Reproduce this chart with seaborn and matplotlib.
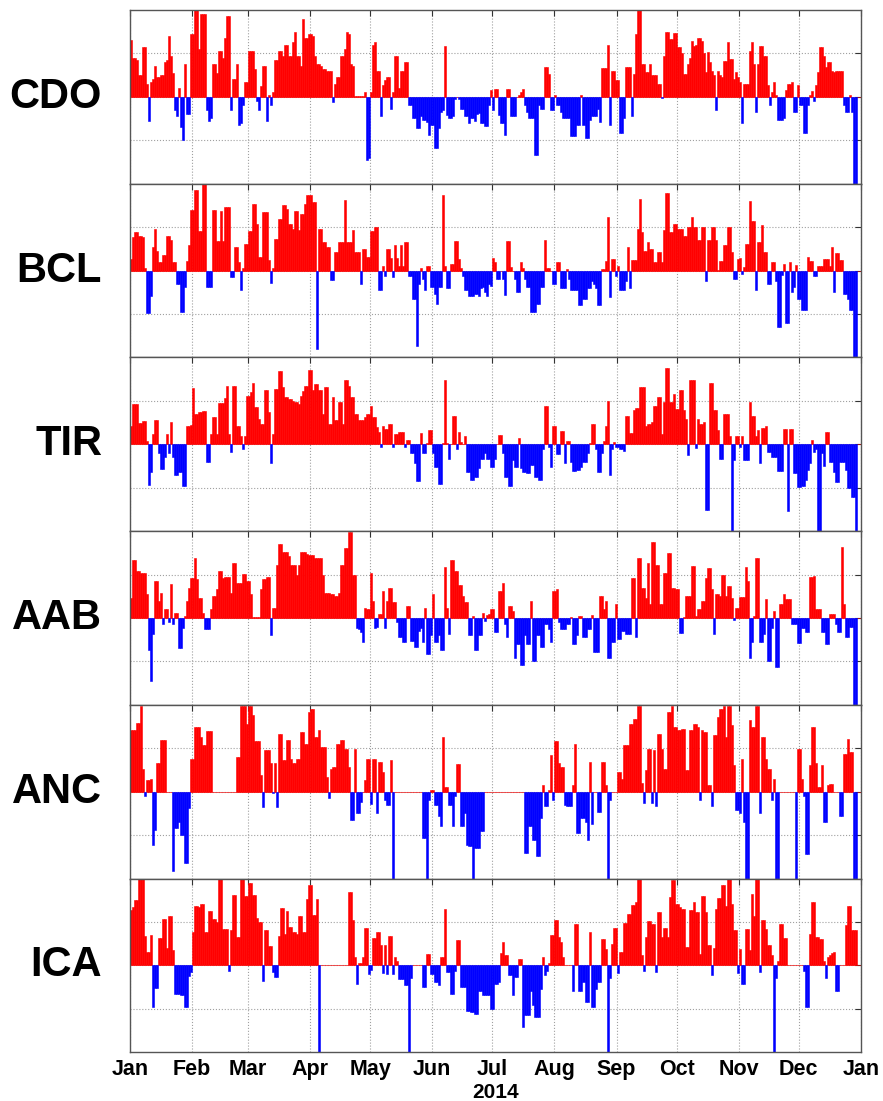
import numpy as np
import pandas as pd
import matplotlib
matplotlib.use("Agg")
import matplotlib.pyplot as plt
import seaborn as sns

# DONNEES (valeurs journalieres, une ligne par mois)

stations = ["CDO", "BCL", "TIR", "AAB", "ANC", "ICA"]
month_names = ["Jan", "Feb", "Mar", "Apr", "May", "Jun",
               "Jul", "Aug", "Sep", "Oct", "Nov", "Dec", "Jan"]
month_len = [31, 28, 31, 30, 31, 30, 31, 31, 30, 31, 30, 31]

cdo = [
    [1.3, 0.9, 0.9, 0.85, 0.5, 0.5, 1.15, 1.15, 0.3, -0.55, 0.35, 0.4, 0.7, 0.45, 0.45, 0.5, 0.5, 0.8, 0.85, 1.4, 0.95, 0.55, -0.3, -0.45, 0.2, -0.7, -1.0, 0.75, -0.4, -0.4, 1.45],
    [1.45, 2.1, 2.1, 1.1, 1.9, 1.9, 1.9, -0.3, -0.55, -0.5, 0.75, 0.75, 0.55, 1.05, 1.05, 0.9, 1.35, 1.85, 1.85, -0.3, 0.4, 0.4, 0.75, -0.65, -0.6, -0.2, 0.35, 0.35],
    [1.05, 1.05, 1.05, 0.65, -0.1, -0.3, 0.25, 0.7, 0.7, -0.55, 0.05, -0.2, 0.1, 0.85, 0.85, 1.05, 1.05, 0.95, 1.2, 1.2, 0.95, 0.95, 1.25, 1.5, 0.95, 0.95, 0.7, 1.8, 1.35, 1.35, 1.45],
    [1.45, 1.4, 0.95, 0.75, 0.75, 0.7, 0.65, 0.65, 0.6, 0.6, 0.6, -0.12, 0.3, 0.45, 0.45, 0.95, 0.95, 1.1, 1.5, 1.45, 0.75, 0.7, 0.02, 0.02, 0.02, 0.02, 0.02, 0.1, -1.45, -1.4],
    [0.1, 1.2, 1.25, 0.6, 0.6, -0.45, 0.27, 0.38, 0.45, 0.45, -0.27, 0.1, 0.95, 0.95, 0.2, 0.6, 0.6, 0.8, 0.8, -0.2, -0.2, -0.5, -0.5, -0.72, -0.72, -0.45, -0.53, -0.53, -0.57, -0.87, -0.64],
    [-0.64, -1.17, -1.17, -0.72, -0.34, -0.3, 1.17, -0.42, -0.5, -0.5, -0.45, -0.05, 0.0, -0.05, -0.27, -0.27, -0.45, -0.45, -0.6, -0.5, -0.5, -0.55, -0.4, -0.38, -0.6, -0.6, -0.68, -0.68, -0.2, 0.15],
    [-0.3, 0.17, 0.17, -0.42, -0.6, -0.6, -0.87, 0.19, 0.19, -0.45, -0.45, -0.45, 0.0, 0.05, 0.1, 0.19, -0.2, -0.34, -0.5, -0.5, -0.5, -1.33, -1.33, -0.2, -0.27, -0.27, 0.68, 0.68, 0.53, -0.3, -0.3],
    [0.05, -0.2, -0.2, -0.34, -0.5, -0.5, -0.5, -0.5, -0.9, -0.9, -0.9, -0.64, -0.64, 0.05, -0.64, -0.95, -0.95, -0.53, -0.45, -0.45, -0.45, -0.27, -0.57, 0.66, 0.66, 0.66, 1.2, -0.64, 0.6, 0.6, 0.38],
    [0.38, -0.83, -0.83, -0.5, 0.68, 0.68, 0.68, -0.45, 0.53, 1.44, 2.1, 2.1, 0.76, 0.76, 0.57, 0.57, 0.76, 0.49, 0.49, 0.49, 0.3, 0.3, -0.03, 0.95, 1.5, 1.5, 1.33, 1.33, 1.47, 1.47],
    [1.14, 1.14, 1.0, 0.53, 0.53, 0.76, 0.9, 1.29, 1.17, 1.2, 1.36, 1.36, 1.29, 1.0, 0.57, 1.02, 0.8, 0.6, 0.49, -0.3, 0.6, 0.5, 0.45, 0.83, 0.83, 1.25, 0.87, 0.87, 0.42, 0.57, 0.45],
    [0.34, -0.6, 0.3, 0.3, 0.3, 1.06, 1.25, 0.76, -0.34, 0.76, 1.17, 1.17, 0.95, 0.95, 0.26, -0.19, 0.1, 0.34, 0.05, -0.53, -0.53, -0.53, -0.5, 0.15, 0.3, 0.3, 0.33, -0.34, -0.34, 0.28],
    [-0.2, -0.2, -0.83, -0.83, -0.2, 0.05, 0.13, -0.1, 0.26, 0.57, 1.14, 1.14, 0.95, 0.68, 0.8, 0.8, 0.6, 0.57, 0.6, 0.6, 0.6, 0.6, -0.19, -0.34, -0.34, 0.05, -0.34, -2.1, -2.1, 0.0, 0.0],
]

bcl = [
    [0.27, 0.77, 0.88, 0.88, 0.8, 0.8, 0.77, 0.05, -0.98, -0.98, -0.58, 0.54, 0.96, 0.46, 0.2, 0.2, 0.35, 0.35, 0.8, 0.8, 0.7, 0.2, 0.2, -0.31, -0.31, -0.95, -0.95, -0.38, 0.23, 0.58, 1.4],
    [1.4, 1.86, 1.86, 0.92, 0.92, 2.0, 2.0, -0.38, -0.38, -0.38, 1.4, 1.4, 0.69, 0.69, 1.37, 0.69, 1.46, 1.46, 1.46, -0.14, -0.14, 0.55, 0.55, 0.2, -0.44, 0.05, 0.6, 0.6],
    [0.9, 0.9, 1.54, 1.54, 1.08, 0.3, 0.3, 1.35, 1.35, 1.35, 0.25, -0.29, 0.05, 0.73, 0.73, 1.19, 1.19, 1.5, 1.5, 1.42, 1.08, 1.08, 0.96, 1.37, 1.37, 0.94, 1.3, 1.3, 1.52, 1.73, 1.73],
    [1.73, 1.58, 1.58, -1.8, 0.96, 0.96, 0.65, 0.65, 0.54, 0.54, -0.22, -0.22, 0.42, 0.42, 0.65, 0.65, 0.65, 1.62, 0.65, 0.65, 0.65, 0.94, 0.42, 0.42, 0.42, -0.31, 0.5, 0.5, 0.31, 0.31],
    [0.92, 0.92, 1.0, 1.0, -0.46, -0.46, 0.1, -0.12, 0.5, 0.5, 0.29, -0.15, 0.58, 0.29, 0.1, 0.58, 0.1, 0.65, 0.65, -0.12, -0.12, -0.65, -0.65, -1.73, -0.3, 0.05, -0.2, -0.44, 0.1, 0.1, -0.38],
    [-0.38, -0.54, -0.77, -0.38, -0.38, 1.73, 0.1, -0.4, -0.4, 0.14, 0.14, 0.67, 0.67, 0.27, 0.05, -0.12, -0.46, -0.46, -0.58, -0.58, -0.58, -0.54, -0.54, -0.58, -0.4, -0.38, -0.5, -0.58, -0.3, -0.35],
    [0.28, 0.2, -0.2, -0.2, 0.0, -0.2, -0.56, 0.67, 0.67, 0.08, 0.0, -0.2, -0.5, -0.5, 0.2, 0.05, -0.2, -0.37, -0.37, -0.96, -0.96, -0.96, -0.77, -0.77, -0.37, -0.37, 0.7, 0.05, 0.05, 0.0, -0.3],
    [-0.3, 0.2, 0.2, -0.4, -0.4, -0.4, 0.04, -0.2, -0.46, -0.46, -0.46, -0.46, -0.8, -0.8, -0.65, -0.65, -0.4, -0.4, -0.23, -0.3, -0.4, -0.8, -0.8, 0.04, 0.04, 0.23, 1.23, -0.62, 0.27, 0.27, -0.12],
    [0.1, -0.46, -0.46, -0.46, -0.23, 0.54, -0.4, 0.25, 0.25, 0.25, 0.96, 1.65, 0.88, 0.46, 0.46, 0.65, 0.5, 0.5, 0.19, 0.19, 0.42, 0.42, 0.19, 0.94, 1.78, 1.78, 0.88, 0.88, 1.08, 1.08],
    [0.96, 0.96, 0.96, 0.8, 0.8, 1.0, 1.0, 1.23, 1.0, 1.0, 0.7, 0.7, 1.0, 1.0, -0.23, 0.7, 0.7, 1.0, 1.0, 0.7, 0.02, 0.23, 0.23, 0.58, 0.58, 1.0, 1.0, 0.42, -0.2, -0.2, 0.27],
    [0.29, -0.08, 0.08, 0.6, 0.6, 1.6, 1.15, 1.15, -0.44, 0.65, 0.65, 1.05, 0.42, 0.42, -0.32, -0.32, 0.19, 0.19, -0.23, -1.3, -1.3, -0.1, 0.15, -1.2, -1.2, 0.19, -0.5, -0.38, 0.12, -0.65],
    [-0.65, -0.92, -0.92, -0.92, 0.32, 0.23, 0.23, -0.12, -0.12, 0.1, 0.1, 0.1, 0.27, 0.27, 0.27, 0.1, 0.54, -0.5, 0.4, 0.4, 0.25, 0.25, -0.54, -0.54, -0.65, -0.9, -0.9, -2.1, -2.1, 0.0, 0.0],
]

tir = [
    [0.43, 0.93, 0.93, 0.93, 0.49, 0.49, 0.53, 0.53, 0.08, -0.94, -0.63, 0.24, 0.55, 0.55, -0.2, -0.58, -0.58, -0.3, 0.24, -0.2, 0.51, -0.3, -0.71, -0.71, -0.63, -0.63, -0.96, -0.96, 0.43, 0.43, 0.45],
    [1.3, 0.69, 0.69, 0.74, 0.74, 0.76, 0.76, -0.4, -0.4, 0.24, 0.63, 0.63, 0.24, 0.95, 0.95, 0.95, 1.07, 1.35, 0.24, -0.18, 1.35, 1.35, 0.41, 0.41, 0.2, -0.1, 0.2, 1.1],
    [1.1, 1.2, 1.4, 0.85, 0.85, 0.59, 0.47, 0.47, 1.24, 1.24, 0.74, -0.43, 0.24, 1.27, 1.27, 1.68, 1.68, 1.31, 1.08, 1.08, 1.05, 1.05, 1.0, 0.97, 0.97, 0.92, 1.1, 1.22, 1.35, 1.35, 1.7],
    [1.7, 1.24, 1.39, 1.39, 1.24, 1.24, 0.7, 1.31, 1.31, 0.47, 0.47, 1.08, 0.55, 0.55, 0.97, 0.97, 0.47, 1.47, 1.47, 1.35, 1.08, 1.08, 0.7, 0.7, 0.55, 0.55, 0.55, 0.63, 0.69, 0.69],
    [0.87, 0.63, 0.63, 0.4, 0.28, -0.06, 0.43, 0.36, 0.36, 0.47, 0.47, -0.07, 0.24, 0.24, 0.28, 0.28, 0.28, -0.06, 0.1, 0.1, -0.21, -0.21, -0.43, -0.84, -0.84, 0.26, -0.21, -0.2, 0.03, 0.32, 0.32],
    [-0.2, -0.53, -0.53, -0.92, -0.92, 0.03, 1.47, 0.03, -0.33, 0.0, 0.66, 0.66, -0.1, 0.28, 0.05, 0.0, 0.18, -0.63, -0.63, -0.82, -0.82, -0.75, -0.75, -0.55, -0.33, -0.33, -0.2, -0.33, -0.33, -0.52],
    [-0.52, -0.33, 0.0, 0.22, 0.22, -0.2, -0.76, -0.76, -0.96, -0.96, -0.37, -0.52, -0.52, 0.15, -0.55, -0.63, -0.63, -0.67, -0.67, -0.48, -0.48, -0.76, -0.76, -0.82, -0.82, -0.1, 0.87, 0.87, -0.06, -0.52, 0.41],
    [0.41, -0.23, -0.23, 0.3, 0.3, -0.44, 0.08, 0.08, -0.4, -0.61, -0.61, -0.6, -0.6, -0.52, -0.4, -0.4, -0.21, 0.02, 0.46, 0.46, -0.12, -0.63, -0.63, -0.21, 0.08, 0.41, 1.0, -0.71, -0.1, 0.05, -0.06],
    [-0.06, -0.1, -0.1, -0.15, 0.64, 0.64, 0.26, 0.26, 0.78, 0.84, 0.84, 1.31, 1.31, 1.31, 0.43, 0.47, 0.47, 0.51, 0.89, 0.89, 1.08, 1.08, 0.24, 0.97, 1.75, 1.75, 0.97, 0.97, 1.16, 0.82],
    [0.82, 1.24, 1.24, 0.78, 0.59, -0.25, 1.47, 1.47, 1.47, -0.08, 0.59, 0.47, 0.47, 0.51, -1.51, -1.51, 1.4, 1.4, 0.78, 0.78, 0.32, -0.35, -0.35, 0.7, 0.7, 0.7, 0.2, -2.1, -0.37, 0.2, 0.2],
    [-0.06, 0.18, -0.37, -0.37, -0.37, 0.97, 0.66, 0.66, 0.2, 0.32, -0.44, 0.38, 0.38, 0.43, -0.18, -0.18, -0.29, -0.29, -0.29, -0.61, -0.61, -0.61, 0.34, 0.34, -1.53, 0.36, 0.36, -0.67, -0.67, -0.98],
    [-0.98, -0.95, -0.95, -0.82, -0.6, -0.44, 0.1, -0.18, -0.1, -2.1, -2.1, -0.21, -0.5, 0.28, 0.28, -0.4, -0.4, -0.63, -0.86, -0.86, -0.4, -0.4, -0.4, -0.6, -1.0, -1.0, -1.22, -1.22, -2.1, 0.0, 0.0],
]

aab = [
    [0.47, 1.34, 1.34, 1.09, 1.09, 1.04, 1.04, 1.04, 0.55, -0.74, -1.46, -0.36, 0.85, 0.85, 0.39, 0.58, -0.14, 0.2, 0.2, -0.1, 0.79, -0.14, 0.12, 0.12, -0.7, -0.7, -0.22, 0.05, 0.39, 0.7, 0.92],
    [0.92, 1.39, 0.89, 0.47, 0.47, 0.12, -0.25, -0.25, -0.25, 0.2, 0.51, 0.51, 0.66, 1.08, 1.08, 0.92, 0.94, 0.94, 0.94, 0.58, 1.27, 1.27, 0.81, 0.81, 0.81, 1.02, 1.02, 0.85],
    [0.85, 0.55, 0.03, 0.03, 0.03, 0.03, 0.66, 0.89, 0.89, 0.94, 0.94, -0.4, 0.24, 0.24, 1.23, 1.7, 1.7, 1.53, 1.52, 1.52, 1.42, 1.23, 1.23, 1.23, 1.0, 1.21, 1.53, 1.53, 1.53, 1.47, 1.44],
    [1.44, 1.45, 1.38, 1.38, 1.38, 1.38, 1.0, 0.58, 0.58, 0.58, 0.55, 0.55, 0.51, 0.51, 0.58, 1.23, 1.23, 1.61, 1.61, 1.98, 1.98, 1.0, 1.0, -0.22, -0.25, -0.33, -0.55, 0.24, 0.2, 0.2],
    [1.04, 0.4, -0.22, -0.2, 0.1, 0.1, 0.62, -0.22, 0.4, 0.68, 0.68, 0.36, 0.36, -0.1, -0.44, -0.44, -0.55, -0.55, 0.28, 0.28, -0.52, -0.52, -0.67, -0.67, -0.3, -0.22, -0.55, 0.24, -0.82, -0.82, -0.4],
    [0.55, -0.55, -0.55, -0.4, -0.74, -0.74, 1.17, 0.24, -0.36, 1.34, 1.34, 1.08, 1.08, 0.76, 0.76, 0.5, 0.36, 0.36, -0.4, -0.4, 0.05, -0.73, -0.73, -0.4, -0.4, 0.12, -0.06, 0.08, 0.1, 0.2],
    [0.2, -0.33, -0.33, 0.62, 0.62, 0.81, -0.14, -0.44, 0.28, 0.28, 0.17, -0.93, -0.6, -0.6, -1.08, -1.08, -0.4, -0.59, -0.59, 0.39, -1.0, -1.0, -0.4, -0.4, -0.67, -0.67, -0.14, -0.14, -0.25, -0.55, 0.62],
    [0.62, 0.66, -0.1, -0.25, -0.25, -0.25, -0.14, -0.14, 0.02, -0.59, -0.59, -0.4, 0.05, 0.05, -0.44, -0.44, -0.25, -0.25, 0.08, -0.78, -0.78, -0.78, 0.51, 0.51, 0.2, 0.38, -0.93, -0.93, -0.55, -0.55, 0.32],
    [-0.48, -0.48, -0.3, -0.3, -0.36, -0.36, -0.36, 0.91, 0.91, -0.44, 1.38, 1.38, 0.7, 0.7, 0.47, 1.27, 0.32, 1.76, 1.76, 1.23, 1.23, 0.32, 0.32, 1.04, 1.04, 1.5, 1.5, 0.7, 0.7, 0.66],
    [0.66, -0.35, -0.35, 0.03, 0.51, 0.51, 0.51, 1.19, 1.19, 0.05, 0.2, 0.2, 0.39, 0.39, 0.92, 1.15, 1.15, 0.66, -0.36, 0.55, 0.55, 0.51, 1.0, 1.0, 0.51, 0.73, 0.73, 0.47, -0.05, 0.24, 0.24],
    [0.48, 0.48, 0.48, 1.17, 0.86, -0.93, -0.55, 0.05, 1.38, 1.38, -0.55, -0.55, -0.36, 0.43, -1.0, -1.0, -0.22, 0.17, -1.12, -1.12, 0.33, 0.33, 0.56, 0.43, 0.43, 0.43, -0.14, -0.14, -0.14, -0.58],
    [-0.58, -0.22, -0.22, -0.33, -0.33, 0.94, 0.94, 0.96, 0.2, 0.2, 0.2, -0.33, -0.33, -0.61, -0.61, 0.1, 0.09, 0.09, -0.14, -0.33, -0.33, 1.64, 0.33, -0.44, -0.44, -0.2, -0.2, -2.1, -2.1, 0.0, 0.0],
]

anc = [
    [1.41, 1.41, 1.43, 1.58, 1.58, 1.98, 0.53, -0.1, 0.28, 0.28, 0.3, -1.22, -0.88, 0.65, 0.65, 1.18, 1.18, 1.18, 0.0, 0.0, 0.0, -1.83, -0.84, -0.84, -0.69, -0.99, -0.99, -1.63, -1.63, -0.38, 0.76],
    [0.76, 1.49, 1.49, 1.49, 1.26, 1.07, 1.07, 1.4, 1.4, 1.4, 0.0, 0.0, 0.0, 0.0, 0.0, 0.0, 0.0, 0.0, 0.0, 0.0, 0.0, 0.0, 0.8, 0.8, 1.98, 1.98, 1.98, 1.56],
    [1.98, 1.98, 1.76, 1.17, 1.17, 1.17, 0.38, -0.36, 0.97, 0.97, 0.97, 0.65, -0.04, 0.65, -0.36, 1.34, 1.34, 0.73, 0.73, 1.18, 1.18, 0.76, 0.65, 0.65, 0.76, 0.76, 1.37, 1.37, 1.1, 1.1, 1.83],
    [1.9, 1.9, 1.26, 1.26, 1.41, 1.03, 1.03, 1.03, 0.33, -0.15, 0.53, 0.57, 0.57, 1.1, 1.1, 1.2, 1.2, 0.99, 0.99, 0.57, -0.65, -0.65, 0.99, -0.5, -0.5, -0.23, 0.0, 0.28, 0.76, 0.76],
    [-0.28, 0.76, 0.76, -0.48, 0.69, 0.69, 0.46, -0.19, -0.3, -0.3, 0.73, -2.1, 0.0, 0.0, 0.0, 0.0, 0.0, 0.0, 0.0, 0.0, 0.0, 0.0, 0.0, 0.0, 0.0, 0.0, -1.07, -1.07, -2.1, -0.2, 0.05],
    [0.05, -0.3, -0.3, -0.56, -0.8, 1.27, 0.1, 0.1, -0.3, -0.3, -0.79, -0.1, 0.63, 0.63, -0.8, -0.8, -0.5, -1.22, -1.25, -1.25, -2.1, -1.3, -1.3, -1.3, -0.9, -0.9, 0.0, 0.0, 0.0, 0.0],
    [0.0, 0.0, 0.0, 0.0, 0.0, 0.0, 0.0, 0.0, 0.0, 0.0, 0.0, 0.0, 0.0, 0.0, 0.0, 0.0, -1.41, -1.41, -0.8, -0.8, -1.1, -1.1, -1.49, -1.49, -0.61, 0.15, -0.34, -0.34, 0.05, 0.84, -0.2],
    [1.17, 1.17, 0.66, 0.57, 0.57, -0.3, -0.33, -0.33, -0.33, 0.15, 1.1, -0.94, -0.94, -0.6, -0.6, -0.7, -1.1, 0.69, -0.75, 0.0, 0.0, -0.46, -0.46, 0.69, 0.69, 0.15, -2.1, -0.2, 0.0, 0.0, 0.0],
    [0.46, 0.46, 0.3, 1.07, 1.07, 1.07, 1.56, 1.56, 1.68, 1.68, 1.98, 1.98, 0.2, -0.26, 0.5, 0.99, 0.99, -0.26, 0.97, -0.33, 1.34, 1.34, 0.99, 0.53, 0.53, 1.83, 1.83, 1.98, 1.49, 1.49],
    [1.41, 1.41, 1.45, 1.45, 0.5, 0.5, 1.41, 1.41, 1.56, 1.56, 1.5, -0.2, 1.43, 1.37, 1.37, 0.15, 0.15, -0.33, 1.3, 1.3, 1.73, 1.9, 1.9, 1.98, 1.26, 1.98, 1.98, 1.53, 0.61, -0.42, -0.42],
    [-0.5, 0.76, -0.7, -2.1, -2.1, 1.66, 1.49, 1.49, 1.98, 1.98, -0.5, 1.26, 1.26, 0.76, 0.53, 0.53, -0.2, 0.3, -2.1, -2.1, 0.0, 0.0, 0.0, 0.0, 0.0, 0.0, 0.0, 0.0, -2.1, 0.99],
    [0.99, 0.3, -0.1, -1.43, -1.43, 0.61, 1.49, 1.49, 0.65, 0.1, 0.1, 0.61, -0.69, -0.69, 0.15, 0.18, 0.18, 0.0, 0.0, 0.0, -0.57, -0.57, 0.88, 0.88, 1.22, 0.92, 0.92, -2.1, -2.1, 0.0, 0.0],
]

ica = [
    [1.27, 1.35, 1.5, 1.5, 1.98, 1.98, 1.98, 0.68, 0.31, 0.31, 0.71, -0.96, -0.52, -0.52, 0.63, 0.63, 1.08, 1.08, 0.4, 1.15, 1.15, 0.35, -0.65, -0.65, -0.65, -0.69, -0.69, -0.96, -0.96, -0.25, -0.15],
    [0.77, 1.38, 1.38, 1.35, 1.42, 1.42, 0.78, 0.78, 1.25, 1.25, 1.08, 1.08, 1.0, 1.98, 1.98, 0.85, 0.85, 0.85, -0.12, 0.81, 1.62, 1.62, 0.65, 0.65, 1.98, 1.98, 1.6, 1.6],
    [1.9, 1.9, 1.62, 1.62, 1.09, 1.0, 1.0, -0.35, 0.81, 0.81, 0.45, 0.45, -0.15, -0.27, -0.27, 0.67, 1.33, 1.33, 0.73, 1.25, 0.88, 0.88, 0.77, 0.77, 0.72, 1.15, 1.15, 0.77, 0.77, 1.54, 1.86],
    [1.86, 1.17, 1.17, 1.52, -2.1, 0.0, 0.0, 0.0, 0.0, 0.0, 0.0, 0.0, 0.0, 0.0, 0.0, 0.0, 0.0, 0.0, 0.0, 1.7, 1.7, 1.04, 0.2, -0.42, 0.05, 0.05, 0.2, 0.86, 0.86, -0.2],
    [-0.1, 0.63, 0.63, 0.77, 0.77, 0.48, -0.17, 0.48, -0.19, 0.68, 0.68, -0.19, 0.19, 0.1, -0.31, -0.31, -0.31, -0.46, -0.46, -2.1, -0.3, 0.0, 0.0, 0.0, 0.0, 0.0, -0.5, -0.5, 0.27, 0.27, -0.19],
    [-0.19, -0.38, -0.38, -0.45, 0.2, 0.2, 1.31, -0.15, -0.15, -0.65, -0.65, -0.12, 0.58, 0.58, -0.5, -0.5, -0.5, -1.04, -1.04, -1.08, -1.08, -1.12, -1.12, -0.58, -0.58, -0.69, -0.69, -0.69, -0.69, -1.0],
    [-1.0, -0.42, -0.42, -0.38, 0.29, 0.54, 0.23, 0.23, -0.23, -0.23, -0.68, -0.27, -0.27, 0.15, 0.15, -1.42, -1.15, -1.15, -1.15, -0.58, -0.92, -1.19, -1.19, -1.19, -0.54, 0.19, -0.22, -0.12, 0.06, 0.71, 0.71],
    [1.04, 1.04, 0.65, 0.54, 0.19, 0.0, 0.0, 0.0, 0.0, -0.58, 0.96, 0.96, -0.58, -0.58, -0.38, -0.83, -0.83, 0.77, -0.96, -0.96, -0.54, -0.37, -0.37, 0.62, 0.62, 0.38, -2.1, -0.3, 0.5, 0.86, 0.86],
    [-0.18, 0.31, 0.31, 0.98, 0.98, 1.19, 1.19, 1.4, 1.4, 1.45, 1.98, 1.98, 0.23, -0.12, 0.65, 1.02, 1.02, 0.96, 0.96, -0.15, 1.23, 1.23, 0.65, 0.86, 0.86, 0.65, 1.58, 1.96, 1.96, 1.42],
    [1.42, 1.35, 1.31, 1.31, 0.42, 0.42, 1.27, 1.27, 1.46, 1.23, 1.23, 0.27, 1.6, 1.6, 1.23, 0.46, 0.46, -0.23, 0.4, 1.31, 1.55, 1.55, 1.86, 1.86, 1.38, 1.98, 1.98, 1.42, 0.81, 0.81, -0.17],
    [0.37, -0.42, -0.42, 0.85, 0.85, 0.35, 1.65, 1.14, 1.98, 1.98, -0.15, 1.04, 1.04, 0.85, 0.46, 0.46, 0.23, -2.1, -0.3, 0.1, 0.96, 0.96, 0.63, 0.63, 0.0, 0.0, 0.0, 0.0, 0.0, 0.0],
    [0.0, 0.0, -0.12, -0.96, -0.96, 0.73, 1.46, 1.46, 0.65, 0.65, 0.6, 0.6, 0.1, -0.3, 0.2, 0.25, 0.29, 0.32, -0.58, -0.58, 0.0, 0.0, 0.0, 0.94, 1.37, 1.37, 0.81, 0.81, 0.81, 0.0, 0.0],
]

series = {"CDO": cdo, "BCL": bcl, "TIR": tir, "AAB": aab, "ANC": anc, "ICA": ica}

# verification du nombre de jours par mois
for name, months in series.items():
    lens = [len(m) for m in months]
    if lens != month_len:
        raise ValueError(f"{name}: {lens}")

# FIGURE

sns.set_style("white")
plt.rcParams["font.family"] = ["Liberation Sans", "DejaVu Sans"]
plt.rcParams["text.color"] = "black"
plt.rcParams["xtick.color"] = "black"
plt.rcParams["ytick.color"] = "black"
plt.rcParams["axes.labelcolor"] = "black"

fig, axes = plt.subplots(6, 1, figsize=(8.83, 11.01), dpi=100, sharex=True)
fig.subplots_adjust(left=0.147, right=0.975, top=0.991, bottom=0.0442, hspace=0)

month_start = np.cumsum([0] + month_len)

for ax, name in zip(axes, stations):
    vals = np.concatenate(series[name])
    df = pd.DataFrame({"day": np.arange(len(vals)) + 0.5, "value": vals})
    df["sign"] = np.where(df["value"] >= 0, "pos", "neg")
    sns.barplot(data=df, x="day", y="value", hue="sign",
                palette={"pos": "#ff0000", "neg": "#0000ff"}, saturation=1,
                native_scale=True, dodge=False, width=1.0, errorbar=None,
                legend=False, linewidth=0, ax=ax)
    # bord de la couleur de la barre pour ne pas laisser de fentes blanches
    for p in ax.patches:
        p.set_edgecolor(p.get_facecolor())
        p.set_linewidth(0.4)
    ax.set_xlim(0, 365)
    ax.set_ylim(-2, 2)
    ax.set_xticks(month_start)
    ax.set_yticks([-1, 0, 1])
    ax.set_yticklabels([])
    ax.set_xlabel("")
    ax.set_ylabel("")
    ax.set_axisbelow(True)
    ax.grid(True, linestyle=":", color="#a0a0a0", linewidth=0.8)
    ax.axhline(0, color="#f0a8a8", linewidth=0.7, zorder=0.5)
    ax.tick_params(direction="in", top=True, right=True, length=4,
                   width=0.8, color="#333333", labelbottom=False)
    for s in ax.spines.values():
        s.set_color("#555555")
        s.set_linewidth(1.0)
    ax.text(-0.038, 0.5, name, transform=ax.transAxes, ha="right", va="center",
            fontsize=30, fontweight="bold", color="black")

axes[-1].tick_params(labelbottom=True, pad=5)
axes[-1].set_xticklabels(month_names, fontsize=15.5, fontweight="bold")
axes[-1].set_xlabel("2014", fontsize=15, fontweight="bold", labelpad=2)

fig.savefig("out.png", dpi=100)
plt.close()
